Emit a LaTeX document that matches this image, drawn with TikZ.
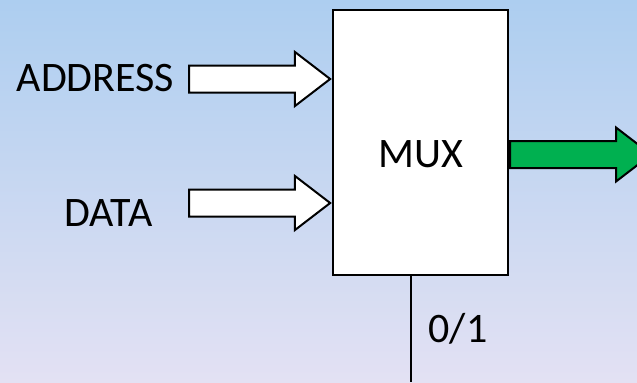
\documentclass[tikz,border=0pt]{standalone}
\usepackage{fontspec}
\setmainfont{Carlito}
\usetikzlibrary{shapes.arrows}

\definecolor{bgtop}{RGB}{173,206,240}
\definecolor{bgbottom}{RGB}{227,225,243}
\definecolor{muxgreen}{RGB}{0,176,80}

\tikzset{
  muxbox/.style={draw=black, fill=white, line width=1.2pt, inner sep=0pt,
    minimum width=87.5pt, minimum height=132.5pt},
  fatarrow/.style={single arrow, draw=black, fill=white, line width=1pt,
    inner sep=0pt, text height=6.25pt, text depth=6.25pt, minimum height=70.5pt,
    single arrow head extend=6.75pt, single arrow tip angle=75},
  selline/.style={draw=black, line width=1pt}
}

\begin{document}
\begin{tikzpicture}[x=0.5pt,y=-0.5pt,font=\fontsize{21}{25}\selectfont]

% =========================
% BACKGROUND
% =========================

\fill[top color=bgtop, bottom color=bgbottom] (0,0) rectangle (637,382);
\useasboundingbox (0,0) rectangle (637,382);

% =========================
% MULTIPLEXER
% =========================

\node[muxbox] (mux) at (420.5,142.5) {};
\node[inner sep=0pt] (muxtext) at (420.5,154) {MUX};

% =========================
% LABELS
% =========================

\node[inner sep=0pt] (address) at (95.5,78) {ADDRESS};
\node[inner sep=0pt] (data) at (108.5,213) {DATA};
\node[inner sep=0pt] (select) at (458,329) {0/1};

% =========================
% ARROWS
% =========================

% inputs
\node[fatarrow, anchor=tip] (addrin) at (mux.west |- 0,79) {};
\node[fatarrow, anchor=tip] (datain) at (mux.west |- 0,203) {};

% output
\node[fatarrow, fill=muxgreen, anchor=tail] (muxout) at (mux.east |- 0,154.5) {};

% select line
\coordinate (selend) at (411,382);
\draw[selline] (mux.south -| selend) -- (selend);

\end{tikzpicture}
\end{document}
